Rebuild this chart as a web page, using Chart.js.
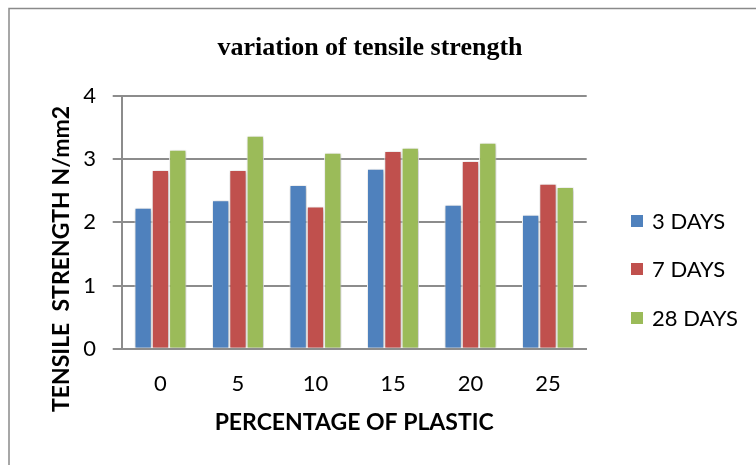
<!DOCTYPE html>
<html>
<head>
<meta charset="utf-8">
<script src="https://cdn.jsdelivr.net/npm/chart.js@4.4.1/dist/chart.umd.min.js"></script>
<style>
  html, body { margin: 0; padding: 0; background: #ffffff; }
  #wrap { position: relative; width: 756px; height: 465px; }
</style>
</head>
<body>
<div id="wrap"><canvas id="chart"></canvas></div>
<script>
// Tensile strength (N/mm2) at each plastic percentage, by curing age
const categories = ['0', '5', '10', '15', '20', '25'];
const days3  = [2.23, 2.35, 2.59, 2.85, 2.28, 2.12];
const days7  = [2.83, 2.83, 2.25, 3.13, 2.97, 2.61];
const days28 = [3.15, 3.37, 3.10, 3.18, 3.26, 2.56];
const seriesLabels = ['3 DAYS', '7 DAYS', '28 DAYS'];
const yTicks = [0, 1, 2, 3, 4];

const colors = ['#4F81BD', '#C0504D', '#9BBB59'];
const gridGray = '#8C8C8C';
const chartTitle = 'variation of tensile strength';
const yTitle = 'TENSILE  STRENGTH N/mm2';
const xTitle = 'PERCENTAGE OF PLASTIC';

// Outer frame, title, rotated y-axis title and legend
const decorations = {
  id: 'decorations',
  beforeDraw(chart) {
    const ctx = chart.ctx;
    ctx.save();
    ctx.strokeStyle = '#8A8A8A';
    ctx.lineWidth = 1.5;
    ctx.beginPath();
    ctx.moveTo(9, 470);
    ctx.lineTo(9, 8.5);
    ctx.lineTo(760, 8.5);
    ctx.stroke();
    ctx.restore();
  },
  beforeDatasetsDraw(chart) {
    const ctx = chart.ctx;
    ctx.save();
    ctx.shadowColor = 'rgba(0,0,0,0.28)';
    ctx.shadowBlur = 4;
    ctx.shadowOffsetX = 1;
    ctx.shadowOffsetY = 1;
  },
  afterDatasetsDraw(chart) {
    chart.ctx.restore();
  },
  afterDraw(chart) {
    const ctx = chart.ctx;
    ctx.save();
    ctx.fillStyle = '#000000';
    ctx.textAlign = 'center';
    ctx.textBaseline = 'middle';
    ctx.font = 'bold 26px "Liberation Serif", "Times New Roman", serif';
    ctx.fillText(chartTitle, 370, 48);

    ctx.save();
    ctx.translate(62, 259);
    ctx.rotate(-Math.PI / 2);
    ctx.font = 'bold 23px Lato, "Open Sans", sans-serif';
    ctx.fillText(yTitle, 0, 0);
    ctx.restore();

    ctx.textAlign = 'left';
    ctx.font = '22px Lato, "Open Sans", sans-serif';
    const rows = [221, 269, 318];
    chart.data.datasets.forEach((ds, i) => {
      ctx.fillStyle = ds.backgroundColor;
      ctx.fillRect(631, rows[i] - 6, 12, 12);
      ctx.fillStyle = '#000000';
      ctx.fillText(ds.label, 652, rows[i] + 1);
    });
    ctx.restore();
  }
};

new Chart(document.getElementById('chart'), {
  type: 'bar',
  data: {
    labels: categories,
    datasets: [days3, days7, days28].map((vals, i) => ({
      label: seriesLabels[i],
      data: vals,
      backgroundColor: colors[i],
      borderColor: '#FFFFFF',
      borderWidth: 1,
      categoryPercentage: 0.67,
      barPercentage: 1.0
    }))
  },
  options: {
    responsive: true,
    maintainAspectRatio: false,
    animation: false,
    devicePixelRatio: 1,
    layout: { padding: { top: 96, left: 0, right: 169.3, bottom: 28.2 } },
    plugins: {
      legend: { display: false },
      title: { display: false },
      tooltip: { enabled: false }
    },
    scales: {
      x: {
        grid: { display: false, drawTicks: false },
        border: { display: true, color: gridGray, width: 2 },
        ticks: {
          padding: 22,
          color: '#000000',
          font: { family: 'Lato, "Open Sans", sans-serif', size: 22 }
        },
        title: {
          display: true,
          text: xTitle,
          color: '#000000',
          padding: { top: 0, bottom: 0 },
          font: { family: 'Lato, "Open Sans", sans-serif', size: 23, weight: 'bold' }
        },
        afterFit(scale) { scale.height = 88.1; }
      },
      y: {
        min: 0,
        max: 4,
        afterBuildTicks(scale) { scale.ticks = yTicks.map(v => ({ value: v })); },
        grid: { color: gridGray, lineWidth: 2, tickLength: 9, drawTicks: true },
        border: { display: true, color: gridGray, width: 2 },
        ticks: {
          padding: 16.7,
          color: '#000000',
          font: { family: 'Lato, "Open Sans", sans-serif', size: 22 }
        },
        afterFit(scale) { scale.width = 121.7; }
      }
    }
  },
  plugins: [decorations]
});
</script>
</body>
</html>
